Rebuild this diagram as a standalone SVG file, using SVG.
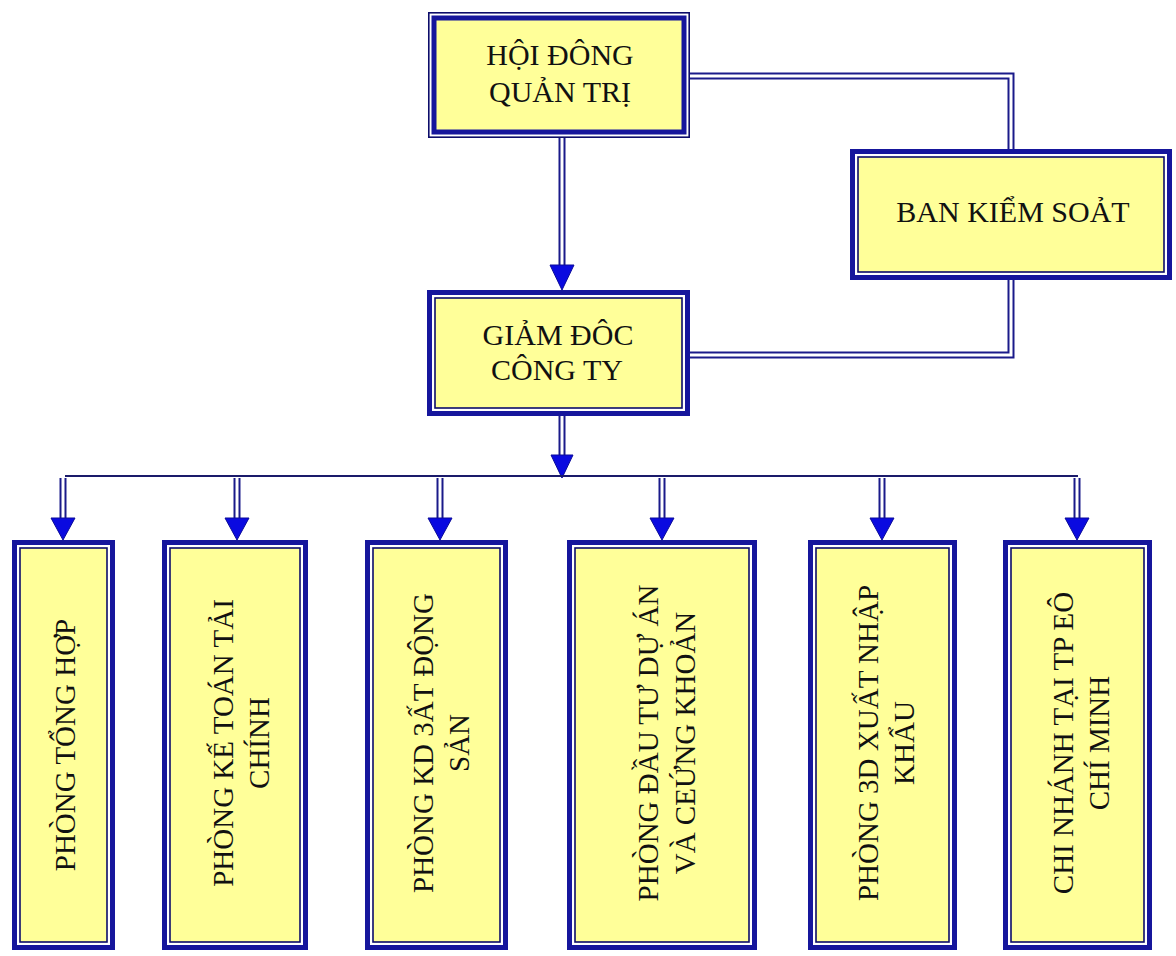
<svg xmlns="http://www.w3.org/2000/svg" width="1176" height="956" viewBox="0 0 1176 956">
<defs>
<style>
.bg{fill:#ffffff}
.ow{fill:#ffffff;stroke:#16169c;stroke-width:5}
.iy{fill:#ffff99;stroke:#0c0c6a;stroke-width:1.6}
.owt{fill:#ffffff;stroke:#0c0c6a;stroke-width:1.6}
.iyt{fill:#ffff99;stroke:#16169c;stroke-width:5}
.t{font-family:"Liberation Serif","Times New Roman",serif;font-size:30px;fill:#111111;text-anchor:middle}
.tv{font-family:"Liberation Serif","Times New Roman",serif;font-size:29px;fill:#111111;text-anchor:middle}
.dl{fill:none;stroke:#1a1a8a;stroke-width:7;stroke-linejoin:miter}
.dw{fill:none;stroke:#ffffff;stroke-width:3;stroke-linejoin:miter}
.bus{fill:none;stroke:#1a1a6a;stroke-width:2}
.ah{fill:#0a0ae0;stroke:#0a0a9a;stroke-width:1}
</style>
</defs>
<rect class="bg" x="0" y="0" width="1176" height="956"/>

<g id="connectors">
  <path class="dl" d="M690,76 H1011 V150"/>
  <path class="dw" d="M690,76 H1011 V150"/>
  <path class="dl" d="M1011,279 V355 H690"/>
  <path class="dw" d="M1011,279 V355 H690"/>
  <path class="dl" d="M562,138 V268"/>
  <path class="dw" d="M562,138 V268"/>
  <polygon class="ah" points="550,265 574,265 562,290"/>
  <path class="dl" d="M562,416 V457"/>
  <path class="dw" d="M562,416 V457"/>
  <polygon class="ah" points="551,455 573,455 562,478"/>
  <line class="bus" x1="65" y1="476" x2="1078" y2="476"/>
  <path class="dl" d="M63,478 V520"/><path class="dw" d="M63,478 V520"/>
  <polygon class="ah" points="51,518 75,518 63,540"/>
  <path class="dl" d="M237,478 V520"/><path class="dw" d="M237,478 V520"/>
  <polygon class="ah" points="225,518 249,518 237,540"/>
  <path class="dl" d="M440,478 V520"/><path class="dw" d="M440,478 V520"/>
  <polygon class="ah" points="428,518 452,518 440,540"/>
  <path class="dl" d="M662,478 V520"/><path class="dw" d="M662,478 V520"/>
  <polygon class="ah" points="650,518 674,518 662,540"/>
  <path class="dl" d="M882,478 V520"/><path class="dw" d="M882,478 V520"/>
  <polygon class="ah" points="870,518 894,518 882,540"/>
  <path class="dl" d="M1077,478 V520"/><path class="dw" d="M1077,478 V520"/>
  <polygon class="ah" points="1065,518 1089,518 1077,540"/>
</g>

<g id="hoi-dong-quan-tri">
  <rect class="owt" x="428.8" y="12.8" width="260.4" height="124.4"/>
  <rect class="iyt" x="434" y="18" width="250" height="114"/>
  <text class="t" x="560" y="65">HỘI ĐÔNG</text>
  <text class="t" x="560" y="102">QUẢN TRỊ</text>
</g>

<g id="ban-kiem-soat">
  <rect class="ow" x="852.5" y="151.5" width="317" height="126"/>
  <rect class="iy" x="858" y="157" width="306" height="115"/>
  <text class="t" x="1013" y="222">BAN KIỂM SOẢT</text>
</g>

<g id="giam-doc">
  <rect class="ow" x="429.5" y="292.5" width="258" height="121"/>
  <rect class="iy" x="435" y="298" width="247" height="110"/>
  <text class="t" x="558" y="345">GIẢM ĐÔC</text>
  <text class="t" x="557" y="380">CÔNG TY</text>
</g>

<g id="phong-tong-hop">
  <rect class="ow" x="14.5" y="542.5" width="98" height="405"/>
  <rect class="iy" x="20" y="548" width="87" height="394"/>
  <g transform="translate(63.5,745) rotate(-90)">
    <text class="tv" x="0" y="11">PHÒNG TỔNG HỢP</text>
  </g>
</g>

<g id="phong-ke-toan">
  <rect class="ow" x="164.5" y="542.5" width="141" height="405"/>
  <rect class="iy" x="170" y="548" width="130" height="394"/>
  <g transform="translate(235,743) rotate(-90)">
    <text class="tv" x="0" y="-2">PHÒNG KẾ TOÁN TẢI</text>
    <text class="tv" x="0" y="34">CHÍNH</text>
  </g>
</g>

<g id="phong-kd-bds">
  <rect class="ow" x="367.5" y="542.5" width="138" height="405"/>
  <rect class="iy" x="373" y="548" width="127" height="394"/>
  <g transform="translate(436.5,743) rotate(-90)">
    <text class="tv" x="0" y="-4">PHÒNG KD 3ẤT ĐỘNG</text>
    <text class="tv" x="0" y="32">SẢN</text>
  </g>
</g>

<g id="phong-dau-tu">
  <rect class="ow" x="569.5" y="542.5" width="185" height="405"/>
  <rect class="iy" x="575" y="548" width="174" height="394"/>
  <g transform="translate(662,743) rotate(-90)">
    <text class="tv" x="0" y="-4">PHÒNG ĐẦU TƯ DỰ ÁN</text>
    <text class="tv" x="0" y="33">VÀ CEỨNG KHOẢN</text>
  </g>
</g>

<g id="phong-xnk">
  <rect class="ow" x="810.5" y="542.5" width="144" height="405"/>
  <rect class="iy" x="816" y="548" width="133" height="394"/>
  <g transform="translate(882.5,743) rotate(-90)">
    <text class="tv" x="0" y="-5">PHÒNG 3D XUẤT NHẬP</text>
    <text class="tv" x="0" y="31">KHẨU</text>
  </g>
</g>

<g id="chi-nhanh">
  <rect class="ow" x="1005.5" y="542.5" width="144" height="405"/>
  <rect class="iy" x="1011" y="548" width="133" height="394"/>
  <g transform="translate(1077.5,743) rotate(-90)">
    <text class="tv" x="0" y="-5">CHI NHÁNH TẠI TP EÔ</text>
    <text class="tv" x="0" y="31">CHÍ MINH</text>
  </g>
</g>
</svg>
